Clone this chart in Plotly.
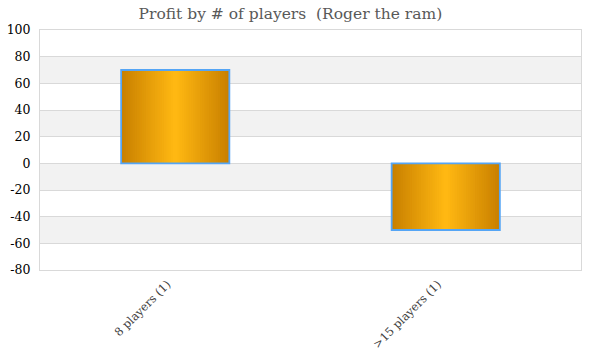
import plotly.graph_objects as go

categories = ["8 players (1)", ">15 players (1)"]
profit = [70, -50]
y_ticks = [100, 80, 60, 40, 20, 0, -20, -40, -60, -80]
y_tick_labels = ["100", "80", "60", "40", "20", "0", "-20", "-40", "-60", "-80"]

edge_rgb = (201, 128, 0)
center_rgb = (255, 184, 18)
bar_width = 0.4
n_layers = 24

fig = go.Figure()
for i in range(n_layers):
    t = i / (n_layers - 1)
    r = round(edge_rgb[0] + (center_rgb[0] - edge_rgb[0]) * t)
    g = round(edge_rgb[1] + (center_rgb[1] - edge_rgb[1]) * t)
    b = round(edge_rgb[2] + (center_rgb[2] - edge_rgb[2]) * t)
    w = bar_width * (1 - i / n_layers)
    fig.add_trace(go.Bar(
        x=categories, y=profit, width=w,
        marker=dict(color=f"rgb({r},{g},{b})", line=dict(width=0)),
        hoverinfo="skip", showlegend=False,
    ))
fig.add_trace(go.Bar(
    x=categories, y=profit, width=bar_width,
    marker=dict(color="rgba(0,0,0,0)", line=dict(color="#55a5f5", width=1.8)),
    showlegend=False,
))

# alternating background bands
sorted_ticks = sorted(y_ticks)
for k in range(len(sorted_ticks) - 1):
    lo, hi = sorted_ticks[k], sorted_ticks[k + 1]
    if k % 2 == 1:
        fig.add_shape(type="rect", xref="paper", yref="y", x0=0, x1=1, y0=lo, y1=hi,
                      fillcolor="#f2f2f2", line=dict(width=0), layer="below")

font_family = "Georgia, 'DejaVu Serif', 'Liberation Serif', serif"
fig.update_layout(
    width=600, height=360,
    margin=dict(l=40, r=19, t=30, b=90),
    paper_bgcolor="white", plot_bgcolor="white",
    barmode="overlay",
    title=dict(text="Profit by # of players  (Roger the ram)", x=0.484, xanchor="center",
               y=0.962, yanchor="middle",
               font=dict(family=font_family, size=15.5, color="#595959")),
    font=dict(family=font_family, size=11, color="#404040"),
    xaxis=dict(tickangle=-45, showgrid=False, showline=True, linecolor="#d9d9d9",
               mirror=True, automargin=False, ticklabelshift=-8, ticklabelstandoff=2,
               tickfont=dict(size=11.5, color="#404040")),
    yaxis=dict(range=[-80, 100], tickvals=y_ticks, ticktext=y_tick_labels,
               showgrid=True, gridcolor="#d9d9d9",
               gridwidth=1, zeroline=False, showline=True, linecolor="#d9d9d9", mirror=True,
               automargin=False,
               tickfont=dict(size=12.5, color="#000000"), ticklabelstandoff=6),
)

fig.write_html("out.html", config={"displayModeBar": False},
               post_script="document.body.style.margin='0';")
